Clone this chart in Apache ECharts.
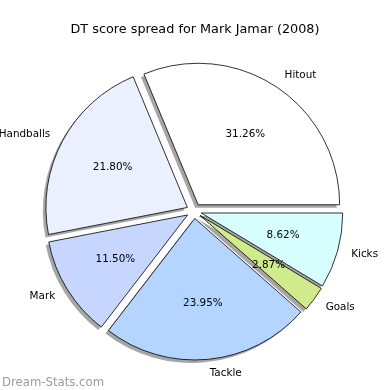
<!DOCTYPE html>
<html><head><meta charset="utf-8">
<script src="https://cdn.jsdelivr.net/npm/echarts@6/dist/echarts.min.js"></script>
<style>html,body{margin:0;padding:0;background:#fff}#c{width:390px;height:390px}</style>
</head><body><div id="c"></div>
<script>
const categories = ['Hitout', 'Handballs', 'Mark', 'Tackle', 'Goals', 'Kicks'];
const values = [31.26, 21.80, 11.50, 23.95, 2.87, 8.62];
const colors = ['#ffffff', '#ebf0ff', '#c6d6ff', '#b3d5ff', '#d0eb8c', '#d8ffff'];
const titleText = 'DT score spread for Mark Jamar (2008)';
const watermark = 'Dream-Stats.com';

const CX = 194, CY = 211, R = 141.5, OFF = 7.5, SH = 3;
const font = 'DejaVu Sans';

function mk(extra) {
  return categories.map((n, i) => Object.assign({ name: n, value: values[i], selected: true }, extra ? extra(i) : {}));
}
const common = {
  type: 'pie', clockwise: false, startAngle: 0, selectedMode: 'multiple', selectedOffset: OFF,
  avoidLabelOverlap: false, animation: false, silent: true,
  emphasis: { disabled: true }, select: { itemStyle: {} }
};
const chart = echarts.init(document.getElementById('c'), null, { renderer: 'canvas' });
chart.setOption({
  backgroundColor: '#fff',
  title: [
    { text: titleText, left: 'center', top: 18, textStyle: { fontFamily: font, fontSize: 12.8, fontWeight: 'normal', color: '#000' } },
    { text: watermark, left: -3, top: 372, textStyle: { fontFamily: font, fontSize: 11.7, fontWeight: 'normal', color: '#9c9c9c' } }
  ],
  series: [
    Object.assign({}, common, {
      name: 'shadow', center: [CX - SH, CY + SH], radius: [0, R],
      label: { show: false }, labelLine: { show: false },
      itemStyle: { color: '#a6a6a6', borderWidth: 0 },
      data: mk()
    }),
    Object.assign({}, common, {
      name: 'wedges', center: [CX, CY], radius: [0, R],
      label: { show: true, position: 'outside', distanceToLabelLine: 0, fontFamily: font, fontSize: 10.4, color: '#000', formatter: '{b}', padding: [2, 0, 0, 0] },
      labelLine: { show: false, length: R * 0.1, length2: 0 },
      itemStyle: { borderColor: '#000', borderWidth: 0.8 },
      data: mk(i => ({ itemStyle: { color: colors[i] } }))
    }),
    Object.assign({}, common, {
      name: 'pct', center: [CX, CY], radius: [0, 2 * (0.6 * R - 3)],
      label: { show: true, position: 'inside', fontFamily: font, fontSize: 10.4, color: '#000',
        formatter: p => p.value.toFixed(2) + '%' },
      labelLine: { show: false },
      itemStyle: { color: 'rgba(0,0,0,0)', borderWidth: 0 },
      data: mk()
    })
  ]
});
</script></body></html>
